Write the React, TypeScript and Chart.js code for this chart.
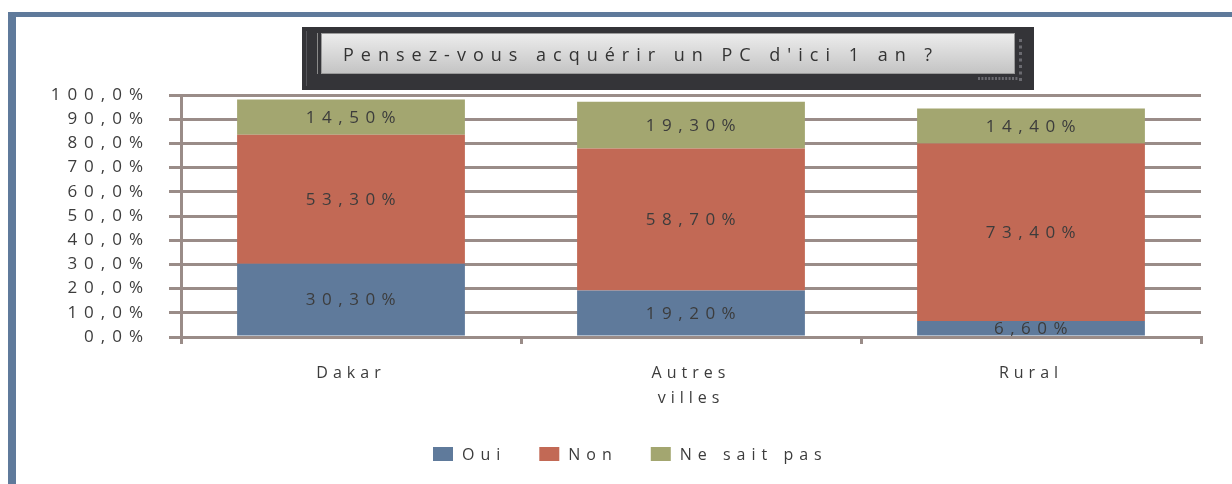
import React, { useEffect, useRef } from "react";
import { Chart, registerables } from "chart.js";

Chart.register(...registerables);

const TITLE = "Pensez-vous acquérir un PC d'ici 1 an ?";
const CATEGORIES: (string | string[])[] = ["Dakar", ["Autres", "villes"], "Rural"];
const SERIES_LABELS = ["Oui", "Non", "Ne sait pas"];
const OUI = [30.3, 19.2, 6.6];
const NON = [53.3, 58.7, 73.4];
const NSP = [14.5, 19.3, 14.4];
const COLORS = ["#5f7a9b", "#c26955", "#a3a670"];

const FONT = "'Open Sans', 'DejaVu Sans', sans-serif";
const TEXT = "#3c3c3c";
const GRID = "#9a8c88";

const fmtPct = (v: number) => v.toFixed(2).replace(".", ",") + "%";
const fmtTick = (v: number) => v.toFixed(1).replace(".", ",") + "%";

const Y_SPACING = "7px";
const X_SPACING = "5px";

const spacingPlugin = {
  id: "spacing",
  beforeUpdate(chart: any) {
    chart.ctx.letterSpacing = Y_SPACING;
  },
  beforeLayout(chart: any) {
    chart.ctx.letterSpacing = Y_SPACING;
  },
  beforeDraw(chart: any) {
    const ctx = chart.ctx;
    ctx.save();
    ctx.fillStyle = "#ffffff";
    ctx.fillRect(0, 0, chart.width, chart.height);
    // frame
    ctx.fillStyle = "#5f7a9b";
    ctx.fillRect(8, 12, 8, chart.height - 12);
    ctx.fillRect(8, 12, chart.width - 8, 5);
    // title box
    ctx.fillStyle = "#343438";
    ctx.fillRect(302, 27, 732, 63);
    ctx.strokeStyle = "#55555a";
    ctx.lineWidth = 1;
    ctx.beginPath();
    ctx.moveTo(306.5, 31);
    ctx.lineTo(306.5, 86);
    ctx.stroke();
    ctx.strokeStyle = "#8a8a8a";
    ctx.beginPath();
    ctx.moveTo(317.5, 33);
    ctx.lineTo(317.5, 74);
    ctx.stroke();
    const g = ctx.createLinearGradient(0, 33, 0, 74);
    g.addColorStop(0, "#ededed");
    g.addColorStop(1, "#c3c3c3");
    ctx.fillStyle = g;
    ctx.fillRect(321, 33, 694, 41);
    ctx.strokeStyle = "#9a9a9a";
    ctx.strokeRect(321.5, 33.5, 693, 40);
    ctx.fillStyle = "#6a6a70";
    for (let i = 0; i < 7; i++) ctx.fillRect(1019, 39 + i * 6.5, 3, 3);
    for (let i = 0; i < 12; i++) ctx.fillRect(978 + i * 3.4, 77, 2, 3);
    ctx.fillStyle = "#333333";
    ctx.font = `18px ${FONT}`;
    ctx.letterSpacing = "7px";
    ctx.textAlign = "left";
    ctx.textBaseline = "middle";
    ctx.fillText(TITLE, 343, 56);
    ctx.restore();
    ctx.letterSpacing = Y_SPACING;
  },
  afterDatasetsDraw(chart: any) {
    const ctx = chart.ctx;
    ctx.save();
    ctx.font = `17px ${FONT}`;
    ctx.letterSpacing = "6.5px";
    ctx.fillStyle = TEXT;
    ctx.textAlign = "center";
    ctx.textBaseline = "middle";
    chart.data.datasets.forEach((ds: any, di: number) => {
      const meta = chart.getDatasetMeta(di);
      meta.data.forEach((el: any, i: number) => {
        const v = ds.data[i];
        const cy = (el.y + el.base) / 2;
        ctx.fillText(fmtPct(v), el.x + 3, cy + 1);
      });
    });
    // legend
    ctx.font = `16px ${FONT}`;
    ctx.letterSpacing = "6px";
    ctx.textAlign = "left";
    let x = 433;
    chart.data.datasets.forEach((ds: any) => {
      ctx.fillStyle = ds.backgroundColor;
      ctx.fillRect(x, 447, 20, 14);
      ctx.fillStyle = TEXT;
      ctx.fillText(ds.label, x + 29, 455);
      x += 29 + ctx.measureText(ds.label).width + 33;
    });
    ctx.restore();
    ctx.letterSpacing = X_SPACING;
  },
};

export default function App() {
  const ref = useRef<HTMLCanvasElement | null>(null);
  useEffect(() => {
    if (!ref.current) return;
    const chart = new Chart(ref.current, {
      type: "bar",
      data: {
        labels: CATEGORIES as any,
        datasets: [
          { label: SERIES_LABELS[0], data: OUI, backgroundColor: COLORS[0] },
          { label: SERIES_LABELS[1], data: NON, backgroundColor: COLORS[1] },
          { label: SERIES_LABELS[2], data: NSP, backgroundColor: COLORS[2] },
        ],
      },
      options: {
        animation: false,
        responsive: true,
        maintainAspectRatio: false,
        datasets: { bar: { categoryPercentage: 1, barPercentage: 0.67 } },
        layout: { padding: { left: 0, top: 95, right: 31, bottom: 0 } },
        plugins: { legend: { display: false }, tooltip: { enabled: false }, title: { display: false } },
        scales: {
          x: {
            stacked: true,
            offset: true,
            grid: {
              display: true,
              offset: true,
              drawOnChartArea: false,
              drawTicks: true,
              tickLength: 7,
              color: GRID,
              lineWidth: 3,
            },
            border: { display: true, color: GRID, width: 3 },
            ticks: {
              z: 1,
              color: TEXT,
              font: { family: FONT, size: 16, lineHeight: 1.55 },
              padding: 17,
              maxRotation: 0,
            },
            afterFit: (s: any) => {
              s.height = 147;
            },
          },
          y: {
            stacked: true,
            min: 0,
            max: 100,
            grid: { color: GRID, lineWidth: 3, tickLength: 12, drawTicks: true },
            border: { display: true, color: GRID, width: 3 },
            ticks: {
              stepSize: 10,
              color: TEXT,
              font: { family: FONT, size: 17 },
              padding: 19,
              callback: (v: any) => fmtTick(Number(v)),
            },
            afterFit: (s: any) => {
              s.width = 181;
            },
          },
        },
      },
      plugins: [spacingPlugin],
    });
    return () => chart.destroy();
  }, []);
  return (
    <div style={{ position: "fixed", left: 0, top: 0, width: 1232, height: 484 }}>
      <canvas ref={ref} />
    </div>
  );
}
